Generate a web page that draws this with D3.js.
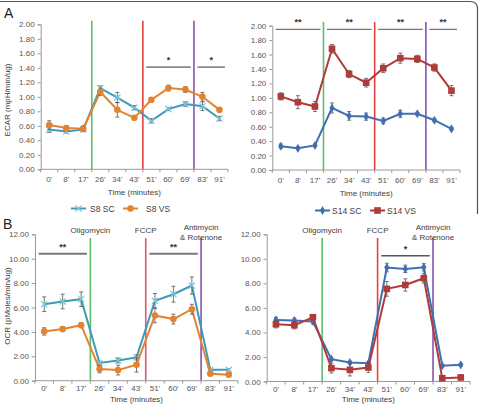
<!DOCTYPE html>
<html>
<head>
<meta charset="utf-8">
<script src="https://cdn.jsdelivr.net/npm/d3@7"></script>
<style>
    body { margin: 0; background: #fff; }
    svg { font-family: "Liberation Sans", Arial, sans-serif; }
</style>
</head>
<body>
<svg id="fig" width="479" height="404"></svg>
<script>
// Seahorse time points (category axis)
const times = ["0'", "8'", "17'", "26'", "34'", "43'", "51'", "60'", "69'", "83'", "91'"];

// Panel A - ECAR
const ecarS8SC     = [0.55, 0.52, 0.55, 1.12, 0.99, 0.85, 0.67, 0.83, 0.90, 0.87, 0.70];
const ecarS8SCErr  = [0.04, 0.02, 0.03, 0.03, 0.07, 0.03, 0.03, 0.02, 0.03, 0.06, 0.03];
const ecarS8VS     = [0.61, 0.57, 0.56, 1.07, 0.82, 0.71, 0.96, 1.12, 1.10, 1.00, 0.82];
const ecarS8VSErr  = [0.06, 0.03, 0.04, 0.05, 0.10, 0.03, 0.03, 0.04, 0.04, 0.06, 0.03];
const ecarS14SC    = [0.33, 0.30, 0.34, 0.86, 0.75, 0.74, 0.68, 0.78, 0.78, 0.69, 0.57];
const ecarS14SCErr = [0.03, 0.02, 0.02, 0.07, 0.06, 0.05, 0.04, 0.05, 0.02, 0.02, 0.02];
const ecarS14VS    = [1.02, 0.94, 0.88, 1.68, 1.33, 1.21, 1.41, 1.55, 1.54, 1.42, 1.10];
const ecarS14VSErr = [0.05, 0.09, 0.07, 0.06, 0.05, 0.06, 0.06, 0.07, 0.05, 0.05, 0.07];

// Panel B - OCR
const ocrS8SC     = [6.27, 6.49, 6.68, 1.45, 1.66, 1.91, 6.55, 7.09, 7.80, 0.90, 0.90];
const ocrS8SCErr  = [0.60, 0.60, 0.60, 0.10, 0.20, 0.20, 0.60, 0.65, 0.70, 0.10, 0.10];
const ocrS8VS     = [4.04, 4.23, 4.55, 0.95, 0.87, 1.31, 5.35, 5.05, 5.86, 0.57, 0.49];
const ocrS8VSErr  = [0.30, 0.20, 0.20, 0.30, 0.40, 0.60, 0.60, 0.40, 0.40, 0.10, 0.05];
const ocrS14SC    = [5.02, 4.97, 4.89, 1.82, 1.55, 1.49, 9.29, 9.18, 9.31, 1.28, 1.36];
const ocrS14SCErr = [0.20, 0.20, 0.20, 0.10, 0.10, 0.10, 0.35, 0.30, 0.30, 0.10, 0.10];
const ocrS14VS    = [4.67, 4.59, 5.24, 1.09, 0.95, 1.14, 7.55, 7.87, 8.42, 0.27, 0.33];
const ocrS14VSErr = [0.30, 0.30, 0.20, 0.40, 0.50, 0.40, 0.60, 0.50, 0.40, 0.20, 0.20];

// Axis ticks
const ecarTicks = [0, 0.2, 0.4, 0.6, 0.8, 1.0, 1.2, 1.4, 1.6, 1.8, 2.0];
const ocrTicks  = [0, 2, 4, 6, 8, 10, 12];

// Injections: line placed before this time point
const injections = [
    { before: "26'", name: ["Oligomycin"], color: "#5bbf6a" },
    { before: "51'", name: ["FCCP"], color: "#e8403c" },
    { before: "83'", name: ["Antimycin", "& Rotenone"], color: "#8b4fb0" }
];
const ocrLeftInjColors = ["#5bbf6a", "#e0566e", "#8b4fb0"];

// Significance bars
const sigEcarS8  = [{ from: "51'", to: "69'", value: 1.41, label: "*" }, { from: "83'", to: "91'", value: 1.41, label: "*" }];
const sigEcarS14 = [
    { from: "0'", to: "17'", value: 1.95, label: "**" },
    { from: "26'", to: "43'", value: 1.95, label: "**" },
    { from: "51'", to: "69'", value: 1.95, label: "**" },
    { from: "83'", to: "91'", value: 1.95, label: "**" }
];
const sigOcrS8  = [{ from: "0'", to: "17'", value: 10.4, label: "**" }, { from: "51'", to: "69'", value: 10.4, label: "**" }];
const sigOcrS14 = [{ from: "51'", to: "69'", value: 10.25, label: "*" }];

const colors = { s8sc: "#3e9ab9", s8vs: "#e3832f", s14sc: "#3f6fb2", s14vs: "#b03b3b" };

const svg = d3.select('#fig');
const textColor = '#404040';

// Frame round panel A
svg.append('path')
    .attr('d', 'M0,1.5 H470 Q477.5,1.5 477.5,9 V214')
    .attr('fill', 'none')
    .attr('stroke', '#555')
    .attr('stroke-width', 1.2);

svg.append('text').attr('x', 4).attr('y', 18).style('font-size', '14px').attr('fill', '#222').text('A');
svg.append('text').attr('x', 3).attr('y', 229).style('font-size', '14px').attr('fill', '#222').text('B');

function marker(type) {
    const sym = { x: d3.symbolX, circle: d3.symbolCircle, diamond: d3.symbolDiamond, square: d3.symbolSquare }[type];
    const size = { x: 26, circle: 34, diamond: 24, square: 44 }[type];
    return d3.symbol().type(sym).size(size)();
}

function drawPanel(p) {
    const g = svg.append('g');
    const x = d3.scaleBand().domain(times).range(p.xRange).padding(0);
    const y = d3.scaleLinear().domain([0, p.yMax]).range(p.yRange);
    const bw = x.bandwidth();
    const cx = t => x(t) + bw / 2;

    // Injection lines
    injections.forEach((inj, i) => {
        const xi = x(inj.before);
        g.append('line')
            .attr('x1', xi).attr('x2', xi)
            .attr('y1', y(p.injTop)).attr('y2', y(0))
            .attr('stroke', p.injColors ? p.injColors[i] : inj.color)
            .attr('stroke-width', 1.6);
        if (p.injLabels) {
            inj.name.forEach((nm, k) => {
                g.append('text')
                    .attr('x', xi)
                    .attr('y', inj.name.length > 1 ? p.labelY - 3.5 + k * 10 : p.labelY)
                    .attr('text-anchor', 'middle')
                    .style('font-size', '8px')
                    .attr('fill', textColor)
                    .text(nm);
            });
        }
    });

    // Y axis
    const yAxis = d3.axisLeft(y).tickValues(p.ticks).tickSize(3).tickPadding(3)
        .tickFormat(d3.format('.2f'));
    const yg = g.append('g').attr('transform', `translate(${p.xRange[0]},0)`).call(yAxis);
    yg.select('.domain').attr('stroke', '#999');
    yg.selectAll('.tick line').attr('stroke', '#999');
    yg.selectAll('.tick text').attr('fill', '#555').style('font-size', '8px').style('font-family', '"Liberation Sans", Arial, sans-serif');

    // X axis - ticks between categories
    const xg = g.append('g').attr('transform', `translate(0,${y(0)})`);
    xg.append('line').attr('x1', p.xRange[0]).attr('x2', p.xRange[1]).attr('stroke', '#999');
    xg.selectAll('.xt').data(times.concat(['end'])).enter().append('line')
        .attr('x1', d => d === 'end' ? p.xRange[1] : x(d))
        .attr('x2', d => d === 'end' ? p.xRange[1] : x(d))
        .attr('y1', 0).attr('y2', 3).attr('stroke', '#999');
    xg.selectAll('.xl').data(times).enter().append('text')
        .attr('x', d => cx(d)).attr('y', p.tickY)
        .attr('text-anchor', 'middle')
        .style('font-size', '8px').attr('fill', '#555')
        .text(d => d);
    g.append('text')
        .attr('x', (p.xRange[0] + p.xRange[1]) / 2).attr('y', y(0) + p.titleY)
        .attr('text-anchor', 'middle').style('font-size', '8px').attr('fill', textColor)
        .text('Time (minutes)');

    if (p.yTitle) {
        g.append('text')
            .attr('transform', `translate(10,${p.yTitleY}) rotate(-90)`)
            .attr('text-anchor', 'middle').style('font-size', '8px').attr('fill', textColor)
            .text(p.yTitle);
    }

    // Significance bars
    p.sig.forEach(s => {
        g.append('line')
            .attr('x1', x(s.from) + bw * 0.2).attr('x2', x(s.to) + bw * 0.82)
            .attr('y1', y(s.value)).attr('y2', y(s.value))
            .attr('stroke', p.sigColor).attr('stroke-width', p.sigWidth);
        g.append('text')
            .attr('x', (x(s.from) + bw * 0.2 + x(s.to) + bw * 0.82) / 2)
            .attr('y', y(s.value) - 4)
            .attr('text-anchor', 'middle').style('font-size', '9px').style('font-weight', 'bold')
            .attr('fill', '#333').text(s.label);
    });

    // Series
    p.series.forEach(s => {
        const pts = times.map((t, i) => ({ t, v: s.values[i], e: s.err[i] }));
        g.append('path').datum(pts)
            .attr('fill', 'none').attr('stroke', s.color).attr('stroke-width', 2)
            .attr('d', d3.line().x(d => cx(d.t)).y(d => y(d.v)));
        const eb = g.selectAll(null).data(pts).enter().append('g').attr('stroke', '#555').attr('stroke-width', 0.8);
        eb.append('line').attr('x1', d => cx(d.t)).attr('x2', d => cx(d.t))
            .attr('y1', d => y(d.v - d.e)).attr('y2', d => y(d.v + d.e));
        eb.append('line').attr('x1', d => cx(d.t) - 2).attr('x2', d => cx(d.t) + 2)
            .attr('y1', d => y(d.v + d.e)).attr('y2', d => y(d.v + d.e));
        eb.append('line').attr('x1', d => cx(d.t) - 2).attr('x2', d => cx(d.t) + 2)
            .attr('y1', d => y(d.v - d.e)).attr('y2', d => y(d.v - d.e));
        g.selectAll(null).data(pts).enter().append('path')
            .attr('transform', d => `translate(${cx(d.t)},${y(d.v)})`)
            .attr('d', marker(s.marker))
            .attr('fill', s.marker === 'x' ? 'none' : s.color)
            .attr('stroke', s.marker === 'x' ? '#7fc7dc' : 'none')
            .attr('stroke-width', 1.3);
    });
}

function drawLegend(ly, items) {
    items.forEach(it => {
        const g = svg.append('g').attr('transform', `translate(${it.x},${ly})`);
        g.append('line').attr('x1', 0).attr('x2', 15).attr('stroke', it.color).attr('stroke-width', 2);
        g.append('path').attr('transform', 'translate(7.5,0)').attr('d', marker(it.marker))
            .attr('fill', it.marker === 'x' ? 'none' : it.color)
            .attr('stroke', it.marker === 'x' ? '#7fc7dc' : 'none').attr('stroke-width', 1.3);
        g.append('text').attr('x', it.tx).attr('y', 3).style('font-size', '8.5px')
            .attr('fill', textColor).text(it.label);
    });
}

const s8Ecar = [
    { values: ecarS8SC, err: ecarS8SCErr, color: colors.s8sc, marker: 'x' },
    { values: ecarS8VS, err: ecarS8VSErr, color: colors.s8vs, marker: 'circle' }
];
const s14Ecar = [
    { values: ecarS14SC, err: ecarS14SCErr, color: colors.s14sc, marker: 'diamond' },
    { values: ecarS14VS, err: ecarS14VSErr, color: colors.s14vs, marker: 'square' }
];
const s8Ocr = [
    { values: ocrS8SC, err: ocrS8SCErr, color: colors.s8sc, marker: 'x' },
    { values: ocrS8VS, err: ocrS8VSErr, color: colors.s8vs, marker: 'circle' }
];
const s14Ocr = [
    { values: ocrS14SC, err: ocrS14SCErr, color: colors.s14sc, marker: 'diamond' },
    { values: ocrS14VS, err: ocrS14VSErr, color: colors.s14vs, marker: 'square' }
];

drawPanel({ xRange: [40.7, 228], yRange: [169.3, 24.3], yMax: 2, ticks: ecarTicks, injTop: 2.05,
    tickY: 13, titleY: 26,
    series: s8Ecar, sig: sigEcarS8, sigColor: '#333', sigWidth: 1, yTitle: 'ECAR (mpH/min/ug)', yTitleY: 100 });
drawPanel({ xRange: [272.3, 460], yRange: [170, 25.7], yMax: 2, ticks: ecarTicks, injTop: 2.05,
    tickY: 13, titleY: 26,
    series: s14Ecar, sig: sigEcarS14, sigColor: '#555', sigWidth: 1 });
drawPanel({ xRange: [35, 238], yRange: [380.7, 234.3], yMax: 12, ticks: ocrTicks, injTop: 11.7,
    tickY: 10.5, titleY: 21.5,
    series: s8Ocr, sig: sigOcrS8, sigColor: '#777', sigWidth: 2, injLabels: true, labelY: 233,
    injColors: ocrLeftInjColors, yTitle: 'OCR (pMoles/min/ug)', yTitleY: 306 });
drawPanel({ xRange: [266.7, 470], yRange: [381.5, 234.3], yMax: 12, ticks: ocrTicks, injTop: 11.7,
    tickY: 10.5, titleY: 20.5,
    series: s14Ocr, sig: sigOcrS14, sigColor: '#555', sigWidth: 1.5, injLabels: true, labelY: 233 });

drawLegend(208.5, [
    { x: 71, tx: 19, label: 'S8 SC', color: colors.s8sc, marker: 'x' },
    { x: 123, tx: 23, label: 'S8 VS', color: colors.s8vs, marker: 'circle' }
]);
drawLegend(210.5, [
    { x: 315, tx: 17, label: 'S14 SC', color: colors.s14sc, marker: 'diamond' },
    { x: 370, tx: 17, label: 'S14 VS', color: colors.s14vs, marker: 'square' }
]);
</script>
</body>
</html>
